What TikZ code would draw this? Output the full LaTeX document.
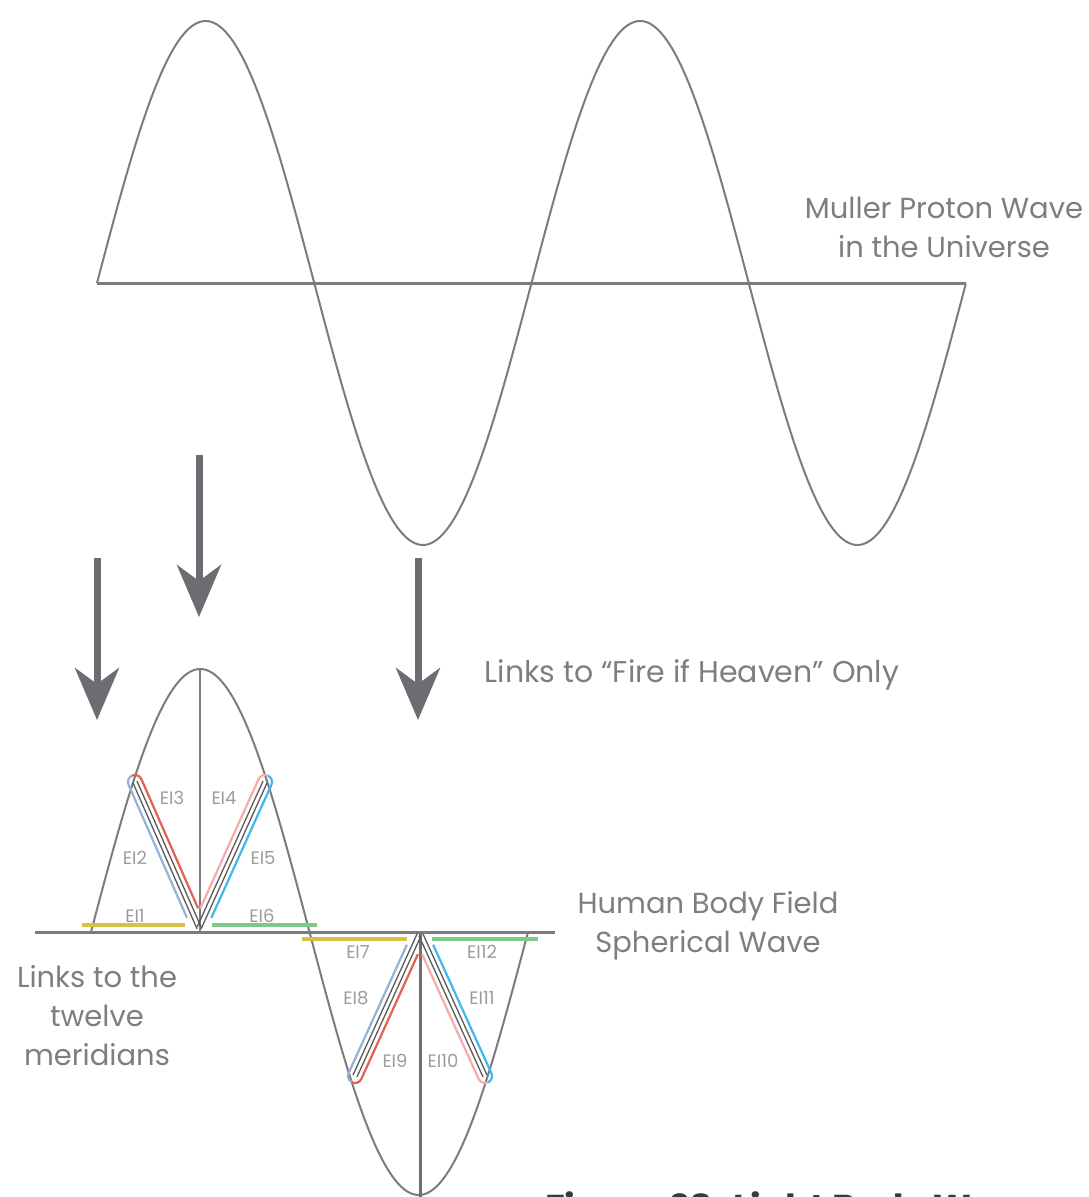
\documentclass[tikz,border=0pt]{standalone}
\usepackage{fontspec}
\setmainfont{Poppins}
\usetikzlibrary{arrows.meta,calc}
\definecolor{wavegray}{HTML}{7C7C7C}
\definecolor{armgraycol}{HTML}{5A5A5A}
\definecolor{arrowgray}{HTML}{6E6C72}
\definecolor{txtgray}{HTML}{7E7E7E}
\definecolor{eigray}{HTML}{9C9C9C}
\definecolor{cblue}{HTML}{93B2D8}
\definecolor{cred}{HTML}{E4604E}
\definecolor{cpink}{HTML}{F6AAAA}
\definecolor{ccyan}{HTML}{3EB8EC}
\definecolor{cyellow}{HTML}{D6C242}
\definecolor{cgreen}{HTML}{7CC98C}
\definecolor{capcol}{HTML}{3A3A3A}
\newcommand{\myarm}[7]{%
 \begin{scope}[shift={(#1)},rotate=#2]
  \draw[armline] (0,2.2) -- (#3,2.2);
  \draw[armline] (0,-2.2) -- (#3,-2.2);
  \draw[colline,#4] (#6,7) -- (0,7) arc[start angle=90,end angle=180,radius=7];
  \draw[colline,#5] (#7,-7) -- (0,-7) arc[start angle=270,end angle=180,radius=7];
 \end{scope}}
\begin{document}
\begin{tikzpicture}[x=1pt,y=1pt,
  wave/.style={draw=wavegray,line width=2pt},
  baseln/.style={draw=wavegray,line width=3pt},
  armline/.style={draw=armgraycol,line width=1.3pt},
  colline/.style={line width=2.2pt},
  bar/.style={line width=4pt},
  bigarrow/.style={draw=arrowgray,line width=7pt,-{Stealth[length=52pt,width=44pt,inset=16pt]}},
  lbl/.style={text=txtgray,font=\fontsize{29}{39}\selectfont,align=center,inner sep=0pt},
  eil/.style={text=eigray,font=\fontsize{18}{20}\selectfont,inner sep=0pt}]
\path[use as bounding box] (0,0) rectangle (1088,-1197);
% top wave
\coordinate (tl) at (97,-283);
\coordinate (tr) at (966,-283);
\draw[baseln] (tl) -- (tr);
\draw[wave] plot[domain=0:4,samples=321,smooth] ({97+217.25*\x},{-283+262*sin(180*\x)});
% arrows
\coordinate (a1s) at (97,-558);  \coordinate (a1e) at (97,-720);
\coordinate (a2s) at (199,-455); \coordinate (a2e) at (199,-617);
\coordinate (a3s) at (418,-558); \coordinate (a3e) at (418,-720);
\draw[bigarrow] (a1s) -- (a1e);
\draw[bigarrow] (a2s) -- (a2e);
\draw[bigarrow] (a3s) -- (a3e);
% lower wave
\coordinate (bl) at (35,-932);
\coordinate (br) at (555,-932);
\draw[wave] plot[domain=0:2,samples=201,smooth] ({91+218.5*\x},{-932+263*sin(180*\x)});
\coordinate (up1) at (200,-669);
\coordinate (up0) at (200,-932);
\coordinate (lo0) at (420,-932);
\coordinate (lo1) at (420,-1197);
\draw[draw=wavegray,line width=2pt] (up1) -- (up0);
\draw[draw=wavegray!90!black,line width=3pt] (lo0) -- (lo1);
% colored bars
\coordinate (y1a) at (82,-925);  \coordinate (y1b) at (185,-925);
\coordinate (g1a) at (212,-925); \coordinate (g1b) at (317,-925);
\coordinate (y2a) at (302,-939); \coordinate (y2b) at (407,-939);
\coordinate (g2a) at (432,-939); \coordinate (g2b) at (538,-939);
\draw[bar,cyellow] (y1a) -- (y1b);
\draw[bar,cgreen] (g1a) -- (g1b);
\draw[bar,cyellow] (y2a) -- (y2b);
\draw[bar,cgreen] (g2a) -- (g2b);
\draw[baseln] (bl) -- (br);
% V arms
\coordinate (ula) at (135,-782);
\coordinate (ura) at (265,-782);
\coordinate (lla) at (355,-1076);
\coordinate (lra) at (485,-1076);
\myarm{ula}{-66.3}{159.4}{cred}{cblue}{141}{145}
\myarm{ura}{-114.3}{160}{ccyan}{cpink}{146}{142}
\myarm{lla}{65.6}{155}{cblue}{cred}{141}{137}
\myarm{lra}{114.4}{155}{cpink}{ccyan}{137}{141}
% EI labels
\node[eil] (e1) at (135,-916) {EI1};
\node[eil] (e2) at (135,-858) {EI2};
\node[eil] (e3) at (172,-798) {EI3};
\node[eil] (e4) at (224,-798) {EI4};
\node[eil] (e5) at (263,-858) {EI5};
\node[eil] (e6) at (262,-916) {EI6};
\node[eil] (e7) at (358,-952) {EI7};
\node[eil] (e8) at (356,-998) {EI8};
\node[eil] (e9) at (395,-1061) {EI9};
\node[eil] (e10) at (443,-1061) {EI10};
\node[eil] (e11) at (482,-998) {EI11};
\node[eil] (e12) at (482,-952) {EI12};
% main labels
\node[lbl] (muller) at (944,-227) {Muller Proton Wave\\in the Universe};
\node[lbl,font=\fontsize{30}{39}\selectfont] (fire) at (692,-675) {Links to “Fire if Heaven” Only};
\node[lbl] (human) at (708,-926) {Human Body Field\\Spherical Wave};
\node[lbl] (links) at (97,-1016) {Links to the\\twelve\\meridians};
% truncated caption
\begin{scope}
\clip (0,0) rectangle (1088,-1197);
\node[anchor=base west,text=capcol,font=\bfseries\fontsize{36}{40}\selectfont,inner sep=0pt] (cap) at (545,-1220) {Figure 28: Light Body Wave};
\end{scope}
\end{tikzpicture}
\end{document}
